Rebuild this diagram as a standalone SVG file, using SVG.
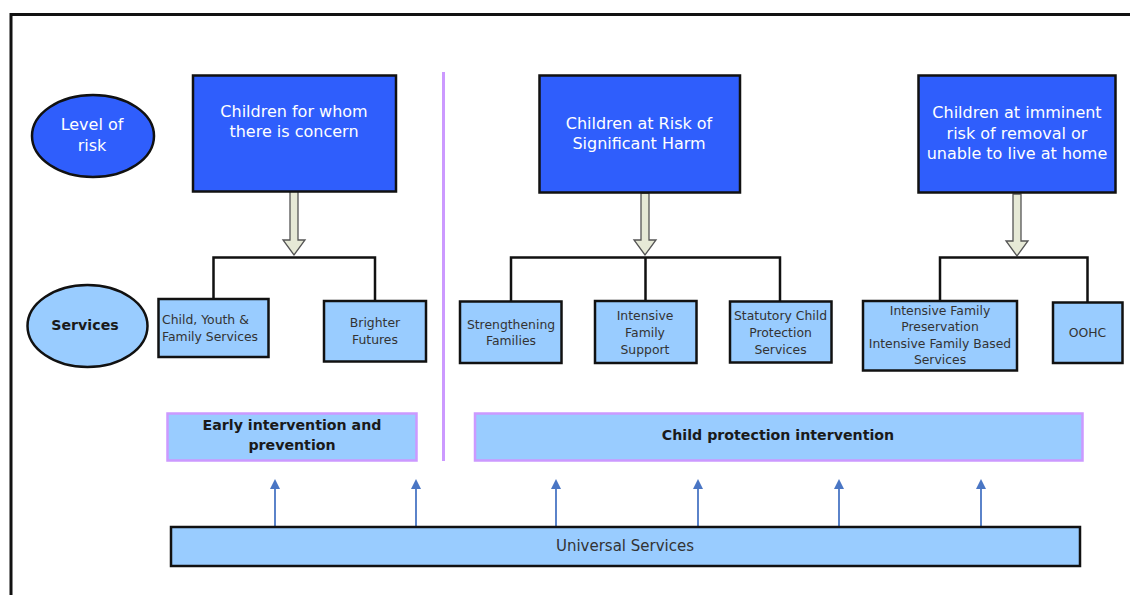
<svg xmlns="http://www.w3.org/2000/svg" width="1130" height="595" viewBox="0 0 1130 595">
<defs>
<style>
.risk{fill:#2f5efc;stroke:#111;stroke-width:2.5}
.svc{fill:#99ccff;stroke:#111;stroke-width:2.5}
.int{fill:#99ccff;stroke:#cc99ff;stroke-width:2.5}
.wt{font-family:"DejaVu Sans",Verdana,sans-serif;font-size:16px;fill:#ffffff;text-anchor:middle}
.bt{font-family:"DejaVu Sans",Verdana,sans-serif;font-size:14.2px;font-weight:bold;fill:#1a1a1a;text-anchor:middle}
.st{font-family:"DejaVu Sans",Verdana,sans-serif;font-size:12.4px;fill:#333;text-anchor:middle}
.ut{font-family:"DejaVu Sans",Verdana,sans-serif;font-size:15px;fill:#333;text-anchor:middle}
.br{fill:none;stroke:#111;stroke-width:2.5}
.dbl{fill:#e6e9d6;stroke:#555;stroke-width:1.3;stroke-linejoin:miter}
.up{stroke:#4a76c4;stroke-width:1.8;fill:none}
</style>
<marker id="ah" viewBox="0 0 10 10" refX="0" refY="5" markerWidth="10" markerHeight="10" markerUnits="userSpaceOnUse" orient="auto">
<path d="M0,0 L10,5 L0,10 Z" fill="#4a76c4"/>
</marker>
</defs>
<rect width="1130" height="595" fill="#ffffff"/>
<!-- frame -->
<path d="M11,595 L11,14.5 L1130,14.5" fill="none" stroke="#111" stroke-width="3"/>
<!-- divider -->
<line x1="443.5" y1="72" x2="443.5" y2="461" stroke="#cc99ff" stroke-width="3"/>

<g id="connectors">
<!-- hollow arrows -->
<path class="dbl" d="M290,191 L298,191 L298,240 L305,240 L294,255 L283,240 L290,240 Z"/>
<path class="dbl" d="M641,193 L649,193 L649,240 L656,240 L645,255 L634,240 L641,240 Z"/>
<path class="dbl" d="M1013,194 L1021,194 L1021,241 L1028,241 L1017,256 L1006,241 L1013,241 Z"/>
<!-- brackets -->
<path class="br" d="M213.5,299 L213.5,257.5 L375,257.5 L375,301"/>
<path class="br" d="M511,301.5 L511,257.5 L780,257.5 L780,301.5 M645.5,257.5 L645.5,301"/>
<path class="br" d="M940,301 L940,257.5 L1087.5,257.5 L1087.5,302.5"/>
<!-- universal arrows -->
<line class="up" x1="275" y1="527" x2="275" y2="489" marker-end="url(#ah)"/>
<line class="up" x1="416" y1="527" x2="416" y2="489" marker-end="url(#ah)" stroke-width="2.5"/>
<line class="up" x1="556" y1="527" x2="556" y2="489" marker-end="url(#ah)" stroke-width="2.2"/>
<line class="up" x1="698" y1="527" x2="698" y2="489" marker-end="url(#ah)"/>
<line class="up" x1="839" y1="527" x2="839" y2="489" marker-end="url(#ah)"/>
<line class="up" x1="981" y1="527" x2="981" y2="489" marker-end="url(#ah)" stroke-width="2.2"/>
</g>

<g id="level-of-risk">
<ellipse class="risk" cx="93" cy="136" rx="61" ry="41"/>
<text class="wt" x="92" y="130">Level of</text>
<text class="wt" x="92" y="151">risk</text>
</g>
<g id="services-label">
<ellipse cx="87.5" cy="326" rx="60" ry="41" fill="#99ccff" stroke="#111" stroke-width="2.5"/>
<text class="bt" x="85" y="329.5">Services</text>
</g>

<g id="risk-concern">
<rect class="risk" x="193" y="75.5" width="203" height="116"/>
<text class="wt" x="294" y="117">Children for whom</text>
<text class="wt" x="294" y="137">there is concern</text>
</g>
<g id="risk-significant">
<rect class="risk" x="539.5" y="75.5" width="200.5" height="117"/>
<text class="wt" x="639" y="128.5">Children at Risk of</text>
<text class="wt" x="639" y="148.5">Significant Harm</text>
</g>
<g id="risk-imminent">
<rect class="risk" x="918.5" y="75.5" width="197" height="117"/>
<text class="wt" x="1017" y="118">Children at imminent</text>
<text class="wt" x="1017" y="138.5">risk of removal or</text>
<text class="wt" x="1017" y="159">unable to live at home</text>
</g>

<g id="svc-cyfs">
<rect class="svc" x="158.5" y="299" width="110" height="58"/>
<text class="st" x="162" y="324" style="text-anchor:start">Child, Youth &amp;</text>
<text class="st" x="162" y="341" style="text-anchor:start">Family Services</text>
</g>
<g id="svc-brighter">
<rect class="svc" x="324" y="301" width="102" height="60.5"/>
<text class="st" x="375" y="327">Brighter</text>
<text class="st" x="375" y="344">Futures</text>
</g>
<g id="svc-strengthening">
<rect class="svc" x="460" y="301.5" width="101.5" height="61.5"/>
<text class="st" x="511" y="328.5">Strengthening</text>
<text class="st" x="511" y="345">Families</text>
</g>
<g id="svc-ifs">
<rect class="svc" x="595" y="301" width="101.5" height="62"/>
<text class="st" x="645" y="319.5">Intensive</text>
<text class="st" x="645" y="337">Family</text>
<text class="st" x="645" y="354">Support</text>
</g>
<g id="svc-statutory">
<rect class="svc" x="730" y="301.5" width="101.5" height="61"/>
<text class="st" x="780.5" y="319.5">Statutory Child</text>
<text class="st" x="780.5" y="337">Protection</text>
<text class="st" x="780.5" y="354">Services</text>
</g>
<g id="svc-ifp">
<rect class="svc" x="863" y="301" width="154" height="69.5"/>
<text class="st" x="940" y="314.5">Intensive Family</text>
<text class="st" x="940" y="331">Preservation</text>
<text class="st" x="940" y="347.5">Intensive Family Based</text>
<text class="st" x="940" y="364">Services</text>
</g>
<g id="svc-oohc">
<rect class="svc" x="1053" y="302.5" width="69.5" height="60.5"/>
<text class="st" x="1087.5" y="337">OOHC</text>
</g>

<g id="early-intervention">
<rect class="int" x="167.5" y="413.5" width="249" height="47"/>
<text class="bt" x="292" y="430">Early intervention and</text>
<text class="bt" x="292" y="450">prevention</text>
</g>
<g id="child-protection">
<rect class="int" x="475" y="413.5" width="607.5" height="47"/>
<text class="bt" x="778" y="440">Child protection intervention</text>
</g>
<g id="universal-services">
<rect class="svc" x="171" y="527" width="909" height="39"/>
<text class="ut" x="625" y="551">Universal Services</text>
</g>
</svg>
